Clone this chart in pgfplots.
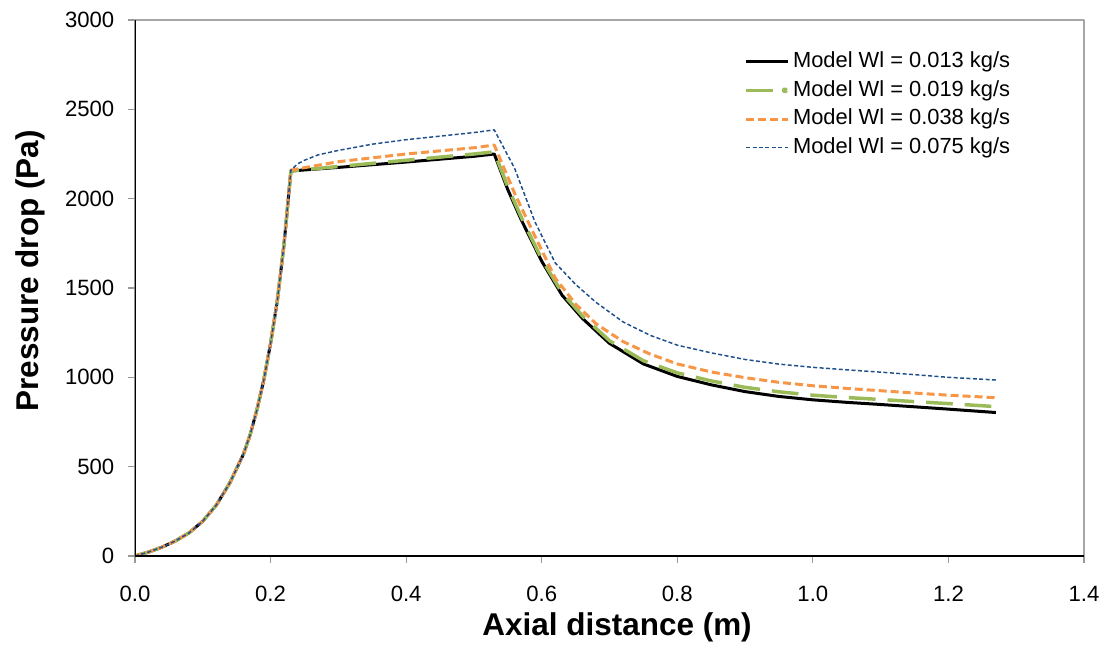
\documentclass[border=0pt]{standalone}
\usepackage{fontspec}
\setmainfont{Liberation Sans}
\usepackage{pgfplots}
\pgfplotsset{compat=1.18}

\definecolor{exgreen}{RGB}{155,187,89}
\definecolor{exorange}{RGB}{247,150,70}
\definecolor{exblue}{RGB}{31,78,140}

\begin{document}
\begin{tikzpicture}
\path[use as bounding box] (-101.25pt,-67.5pt) rectangle (730.5pt,417pt);
\begin{axis}[
    scale only axis,
    width=711.75pt, height=402pt,
    xmin=0, xmax=1.4, ymin=0, ymax=3000,
    xtick={0,0.2,0.4,0.6,0.8,1.0,1.2,1.4},
    ytick={0,500,1000,1500,2000,2500,3000},
    xtick pos=bottom, ytick pos=left,
    tick align=outside,
    major tick length=5pt,
    tick style={gray!80, line width=0.8pt},
    axis line style={gray!70, line width=1pt},
    xticklabel style={/pgf/number format/fixed, /pgf/number format/precision=1,
        /pgf/number format/fixed zerofill, yshift=-14pt},
    yticklabel style={xshift=-7pt, /pgf/number format/set thousands separator={}},
    /pgf/number format/assume math mode=true,
    scaled ticks=false,
    ticklabel style={font=\fontsize{16.6}{19}\selectfont},
    label style={font=\fontsize{23.6}{28}\selectfont\bfseries},
    xlabel={Axial distance (m)},
    ylabel={Pressure drop (Pa)},
    xlabel style={at={(axis description cs:0.508,-0.134)}, anchor=center},
    ylabel style={at={(axis description cs:-0.1106,0.532)}, anchor=center},
    legend style={at={(axis description cs:0.642,0.942)}, anchor=north west,
        draw=none, fill=none, inner sep=0pt, row sep=6pt,
        font=\fontsize{16.4}{19}\selectfont,
        nodes={inner sep=0pt, text height=12pt, text depth=3.5pt}},
    legend cell align=left,
    legend image code/.code={\draw[#1] (0pt,0pt) -- (31pt,0pt);},
    every axis legend/.append style={column sep=3pt},
    line join=round,
]
\addplot[black, line width=2.25pt] coordinates {
(0,0) (0.02,22) (0.04,50) (0.06,85) (0.08,130) (0.10,195) (0.12,285) (0.14,410)
(0.16,570) (0.17,680) (0.18,820) (0.19,985) (0.20,1190) (0.21,1430) (0.22,1750) (0.23,2155)
(0.30,2175) (0.40,2205) (0.50,2237) (0.53,2250)
(0.55,2050) (0.57,1880) (0.60,1650) (0.63,1460) (0.66,1330) (0.70,1190) (0.75,1075)
(0.80,1005) (0.85,958) (0.90,920) (0.95,893) (1.00,874) (1.05,860) (1.10,848)
(1.15,835) (1.20,822) (1.27,803)};
\addlegendentry{Model Wl = 0.013 kg/s}
\addplot[exgreen, line width=2.6pt, dash pattern=on 20pt off 9pt,
    legend image code/.code={\draw[exgreen, line width=2.6pt] (0pt,0pt) -- (20pt,0pt);
        \fill[exgreen] (29pt,0pt) circle (1.2pt);}] coordinates {
(0,0) (0.02,22) (0.04,50) (0.06,85) (0.08,130) (0.10,195) (0.12,285) (0.14,410)
(0.16,570) (0.17,680) (0.18,820) (0.19,985) (0.20,1190) (0.21,1430) (0.22,1750) (0.23,2155)
(0.30,2180) (0.40,2215) (0.50,2250) (0.53,2262)
(0.55,2065) (0.57,1895) (0.60,1662) (0.63,1473) (0.66,1344) (0.70,1205) (0.75,1093)
(0.80,1025) (0.85,980) (0.90,944) (0.95,919) (1.00,900) (1.05,887) (1.10,876)
(1.15,864) (1.20,853) (1.27,836)};
\addlegendentry{Model Wl = 0.019 kg/s}
\addplot[exorange, line width=2.25pt, dash pattern=on 6pt off 3pt] coordinates {
(0,0) (0.02,22) (0.04,50) (0.06,85) (0.08,130) (0.10,195) (0.12,285) (0.14,410)
(0.16,570) (0.17,680) (0.18,820) (0.19,985) (0.20,1190) (0.21,1430) (0.22,1750) (0.23,2160)
(0.30,2207) (0.40,2250) (0.50,2285) (0.53,2300)
(0.56,2030) (0.59,1790) (0.62,1555) (0.65,1410) (0.68,1300) (0.72,1200) (0.76,1130)
(0.80,1075) (0.85,1030) (0.90,998) (0.95,972) (1.00,953) (1.05,938) (1.10,925)
(1.15,912) (1.20,900) (1.27,886)};
\addlegendentry{Model Wl = 0.038 kg/s}
\addplot[exblue, line width=1.1pt, dash pattern=on 3pt off 1.8pt] coordinates {
(0,0) (0.02,22) (0.04,50) (0.06,85) (0.08,130) (0.10,195) (0.12,285) (0.14,410)
(0.16,570) (0.17,680) (0.18,820) (0.19,985) (0.20,1190) (0.21,1430) (0.22,1750) (0.23,2160)
(0.24,2195) (0.25,2215) (0.27,2245) (0.30,2270) (0.35,2305) (0.40,2330) (0.45,2350)
(0.50,2370) (0.53,2385)
(0.56,2170) (0.59,1870) (0.62,1640) (0.65,1520) (0.68,1420) (0.72,1310) (0.76,1235)
(0.80,1180) (0.85,1137) (0.90,1100) (0.95,1074) (1.00,1056) (1.05,1042) (1.10,1029)
(1.15,1015) (1.20,1000) (1.27,985)};
\addlegendentry{Model Wl = 0.075 kg/s}
\draw[black, line width=1pt] (rel axis cs:0,1) -- (rel axis cs:0,0) -- (rel axis cs:1,0);
\end{axis}
\end{tikzpicture}
\end{document}
